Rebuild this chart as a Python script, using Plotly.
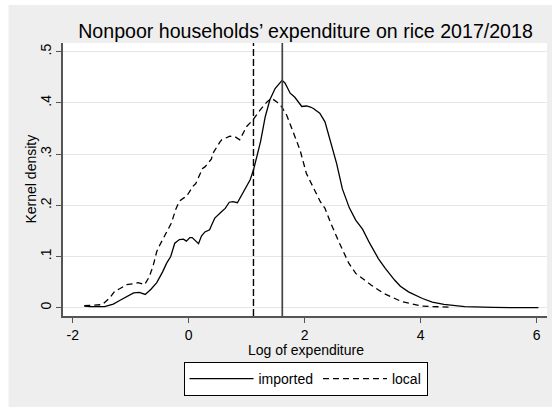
import plotly.graph_objects as go

# Kernel density estimates of log rice expenditure, nonpoor households
imported_x = [-1.80, -1.70, -1.45, -1.30, -1.19, -1.05, -0.95, -0.85, -0.75, -0.65,
              -0.55, -0.45, -0.38, -0.31, -0.24, -0.16, -0.09, -0.04, 0.02, 0.06,
              0.12, 0.17, 0.22, 0.28, 0.36, 0.45, 0.57, 0.63, 0.70, 0.76,
              0.84, 0.91, 0.98, 1.06, 1.12, 1.18, 1.24, 1.32, 1.40, 1.49,
              1.57, 1.61, 1.66, 1.75, 1.83, 1.90, 1.95, 2.03, 2.10, 2.15,
              2.26, 2.35, 2.44, 2.55, 2.65, 2.77, 2.88, 3.00, 3.12, 3.27,
              3.39, 3.55, 3.65, 3.79, 4.03, 4.20, 4.40, 4.76, 5.25, 6.03]
imported_y = [0.003, 0.002, 0.002, 0.007, 0.014, 0.022, 0.029, 0.030, 0.026, 0.036,
              0.049, 0.070, 0.087, 0.100, 0.126, 0.133, 0.134, 0.130, 0.137, 0.137,
              0.130, 0.125, 0.140, 0.148, 0.152, 0.175, 0.188, 0.194, 0.206, 0.207,
              0.205, 0.220, 0.232, 0.250, 0.270, 0.300, 0.325, 0.373, 0.406, 0.428,
              0.439, 0.444, 0.439, 0.419, 0.411, 0.400, 0.393, 0.394, 0.392, 0.389,
              0.380, 0.363, 0.328, 0.282, 0.232, 0.195, 0.171, 0.153, 0.126, 0.096,
              0.077, 0.054, 0.042, 0.031, 0.018, 0.011, 0.0066, 0.002, 0.0005, 0.0]

local_x = [-1.80, -1.60, -1.49, -1.37, -1.27, -1.19, -1.07, -0.95, -0.87, -0.76,
           -0.68, -0.61, -0.55, -0.50, -0.40, -0.30, -0.22, -0.16, -0.09, -0.04,
           0.08, 0.12, 0.24, 0.28, 0.39, 0.42, 0.54, 0.57, 0.71, 0.80,
           0.88, 1.00, 1.11, 1.23, 1.35, 1.43, 1.52, 1.60, 1.69, 1.80,
           1.92, 2.03, 2.15, 2.27, 2.35, 2.45, 2.60, 2.76, 2.88, 3.03,
           3.15, 3.36, 3.67, 4.03, 4.52]
local_y = [0.004, 0.005, 0.006, 0.018, 0.033, 0.037, 0.045, 0.047, 0.049, 0.045,
           0.060, 0.083, 0.110, 0.122, 0.145, 0.165, 0.193, 0.208, 0.214, 0.217,
           0.238, 0.242, 0.272, 0.275, 0.290, 0.302, 0.324, 0.328, 0.335, 0.334,
           0.328, 0.354, 0.367, 0.386, 0.402, 0.409, 0.402, 0.393, 0.376, 0.344,
           0.308, 0.262, 0.236, 0.207, 0.194, 0.165, 0.126, 0.087, 0.067, 0.054,
           0.044, 0.028, 0.012, 0.003, 0.001]

# Reference lines (mean log expenditure per rice type)
mean_imported = 1.614
mean_local = 1.117

x_ticks = [-2, 0, 2, 4, 6]
x_tick_text = ["-2", "0", "2", "4", "6"]
y_ticks = [0, 0.1, 0.2, 0.3, 0.4, 0.5]
y_tick_text = ["0", ".1", ".2", ".3", ".4", ".5"]

W, H = 552, 407
ML, MR, MT, MB = 63, 5, 43, 91
pw, ph = W - ML - MR, H - MT - MB
CX = 305.5  # horizontal centre of the plot region, px

BG = "#eeeeee"
AXIS = "#555555"
FONT = "Liberation Sans, Arial, sans-serif"

fig = go.Figure()
fig.add_trace(go.Scatter(x=imported_x, y=imported_y, mode="lines", name="imported",
                         line=dict(color="black", width=1.3)))
fig.add_trace(go.Scatter(x=local_x, y=local_y, mode="lines", name="local",
                         line=dict(color="black", width=1.3, dash="6px,4px")))

fig.add_shape(type="line", xref="x", yref="paper", x0=mean_local, x1=mean_local,
              y0=0, y1=1, line=dict(color="black", width=1.4, dash="7px,3px"))
fig.add_shape(type="line", xref="x", yref="paper", x0=mean_imported, x1=mean_imported,
              y0=0, y1=1, line=dict(color="#444444", width=1.7))

# white strips along the left and top edges of the graph region
fig.add_shape(type="rect", xref="paper", yref="paper", layer="below",
              x0=-ML / pw, x1=(8.5 - ML) / pw, y0=-MB / ph, y1=1 + MT / ph,
              fillcolor="white", line=dict(width=0))
fig.add_shape(type="rect", xref="paper", yref="paper", layer="below",
              x0=-ML / pw, x1=1 + MR / pw, y0=1 + (MT - 5) / ph, y1=1 + MT / ph,
              fillcolor="white", line=dict(width=0))

# axis titles
fig.add_annotation(text="Log of expenditure", xref="paper", yref="paper",
                   x=(CX - ML) / pw, y=-(349.5 - (MT + ph)) / ph,
                   xanchor="center", yanchor="middle", showarrow=False,
                   borderpad=0,
                   font=dict(size=14, family=FONT, color="black"))
fig.add_annotation(text="Kernel density", xref="paper", yref="paper",
                   x=(30 - ML) / pw, y=(MT + ph - 179.5) / ph, textangle=-90,
                   xanchor="center", yanchor="middle", showarrow=False,
                   borderpad=0,
                   font=dict(size=14, family=FONT, color="black"))

fig.update_layout(
    width=W, height=H,
    margin=dict(l=ML, r=MR, t=MT, b=MB),
    paper_bgcolor=BG, plot_bgcolor="white",
    font=dict(family=FONT, color="black", size=14),
    title=dict(text="Nonpoor households\u2019 expenditure on rice 2017/2018",
               x=CX / W, xanchor="center",
               y=1 - 31 / H, yanchor="middle",
               font=dict(size=19.6, family=FONT, color="black")),
    showlegend=True,
    legend=dict(orientation="h", x=(CX - ML) / pw, xanchor="center",
                y=(ph - (362 - MT)) / ph, yanchor="top",
                bgcolor="white", bordercolor="black", borderwidth=1,
                font=dict(size=14, family=FONT), itemwidth=64,
                tracegroupgap=0),
)

fig.update_xaxes(range=[-2.167, 6.178], tickvals=x_ticks, ticktext=x_tick_text,
                 ticks="outside", ticklen=5,
                 tickcolor=AXIS, showline=True, linecolor=AXIS, linewidth=1.5,
                 showgrid=False, zeroline=False, tickfont=dict(size=14),
                 ticklabelstandoff=0)
fig.update_yaxes(range=[-0.0162, 0.517], tickvals=y_ticks, ticktext=y_tick_text,
                 ticks="outside", ticklen=5, tickcolor=AXIS, tickangle=-90,
                 showline=True, linecolor=AXIS, linewidth=1.5,
                 showgrid=True, gridcolor="#e6e6e6", gridwidth=1, zeroline=False,
                 tickfont=dict(size=14))

fig.write_html("out.html")
